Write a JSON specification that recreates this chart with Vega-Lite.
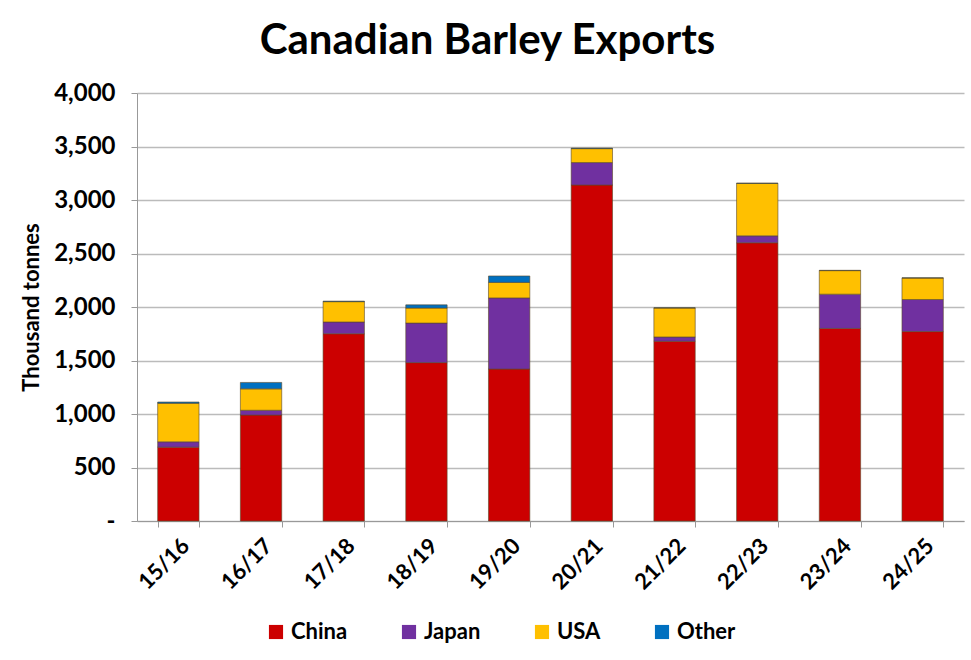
{
  "$schema": "https://vega.github.io/schema/vega-lite/v6.json",
  "width": 827,
  "height": 428,
  "padding": {"left": 20, "top": 20, "right": 8, "bottom": 5},
  "background": "white",
  "title": {"text": "Canadian Barley Exports", "font": "Lato", "fontSize": 42, "fontWeight": "bold", "color": "#000", "offset": 18, "anchor": "middle", "dx": -63},
  "data": {"values": [
    {"s":"15/16","c":"China","v":690},{"s":"15/16","c":"Japan","v":50},{"s":"15/16","c":"USA","v":360},{"s":"15/16","c":"Other","v":12},
    {"s":"16/17","c":"China","v":990},{"s":"16/17","c":"Japan","v":45},{"s":"16/17","c":"USA","v":200},{"s":"16/17","c":"Other","v":60},
    {"s":"17/18","c":"China","v":1750},{"s":"17/18","c":"Japan","v":110},{"s":"17/18","c":"USA","v":190},{"s":"17/18","c":"Other","v":5},
    {"s":"18/19","c":"China","v":1480},{"s":"18/19","c":"Japan","v":370},{"s":"18/19","c":"USA","v":140},{"s":"18/19","c":"Other","v":30},
    {"s":"19/20","c":"China","v":1420},{"s":"19/20","c":"Japan","v":665},{"s":"19/20","c":"USA","v":145},{"s":"19/20","c":"Other","v":60},
    {"s":"20/21","c":"China","v":3140},{"s":"20/21","c":"Japan","v":210},{"s":"20/21","c":"USA","v":130},{"s":"20/21","c":"Other","v":5},
    {"s":"21/22","c":"China","v":1680},{"s":"21/22","c":"Japan","v":40},{"s":"21/22","c":"USA","v":270},{"s":"21/22","c":"Other","v":3},
    {"s":"22/23","c":"China","v":2600},{"s":"22/23","c":"Japan","v":65},{"s":"22/23","c":"USA","v":490},{"s":"22/23","c":"Other","v":3},
    {"s":"23/24","c":"China","v":1800},{"s":"23/24","c":"Japan","v":320},{"s":"23/24","c":"USA","v":220},{"s":"23/24","c":"Other","v":3},
    {"s":"24/25","c":"China","v":1770},{"s":"24/25","c":"Japan","v":300},{"s":"24/25","c":"USA","v":200},{"s":"24/25","c":"Other","v":3}
  ]},
  "transform": [{"calculate": "indexof(['China','Japan','USA','Other'], datum.c)", "as": "k"}],
  "mark": {"type": "bar", "stroke": "#5a4a2a", "strokeWidth": 1, "strokeOpacity": 0.6},
  "encoding": {
    "x": {"field": "s", "type": "nominal", "sort": null,
      "scale": {"paddingInner": 0.5, "paddingOuter": 0.25},
      "axis": {"title": null, "labelAngle": -45, "labelFont": "Lato", "labelFontSize": 22, "labelFontWeight": "bold", "labelColor": "#000", "labelPadding": 8, "tickBand": "extent", "domainColor": "#999", "tickColor": "#999", "tickSize": 6}},
    "y": {"field": "v", "type": "quantitative", "aggregate": "sum", "stack": "zero",
      "scale": {"domain": [0, 4000]},
      "axis": {"title": "Thousand tonnes", "titleFont": "Lato", "titleFontSize": 22, "titleFontWeight": "bold", "titleColor": "#000", "titlePadding": 10,
        "values": [0,500,1000,1500,2000,2500,3000,3500,4000],
        "labelExpr": "datum.value == 0 ? '-' : format(datum.value, ',')",
        "labelFont": "Lato", "labelFontSize": 24, "labelFontWeight": "bold", "labelColor": "#000", "labelPadding": 16,
        "gridColor": "#bbb", "gridWidth": 1.3, "domainColor": "#999", "tickColor": "#999", "tickSize": 6}},
    "color": {"field": "c", "type": "nominal",
      "scale": {"domain": ["China","Japan","USA","Other"], "range": ["#cc0000","#7030a0","#ffc000","#0070c0"]},
      "legend": {"title": null, "orient": "none", "legendX": 128, "legendY": 528, "direction": "horizontal", "symbolType": "square", "symbolSize": 200, "symbolStrokeWidth": 0, "labelFont": "Lato", "labelFontSize": 22, "labelFontWeight": "bold", "labelColor": "#000", "columnPadding": 50}},
    "order": {"field": "k", "type": "quantitative"}
  },
  "config": {"view": {"stroke": null}}
}
